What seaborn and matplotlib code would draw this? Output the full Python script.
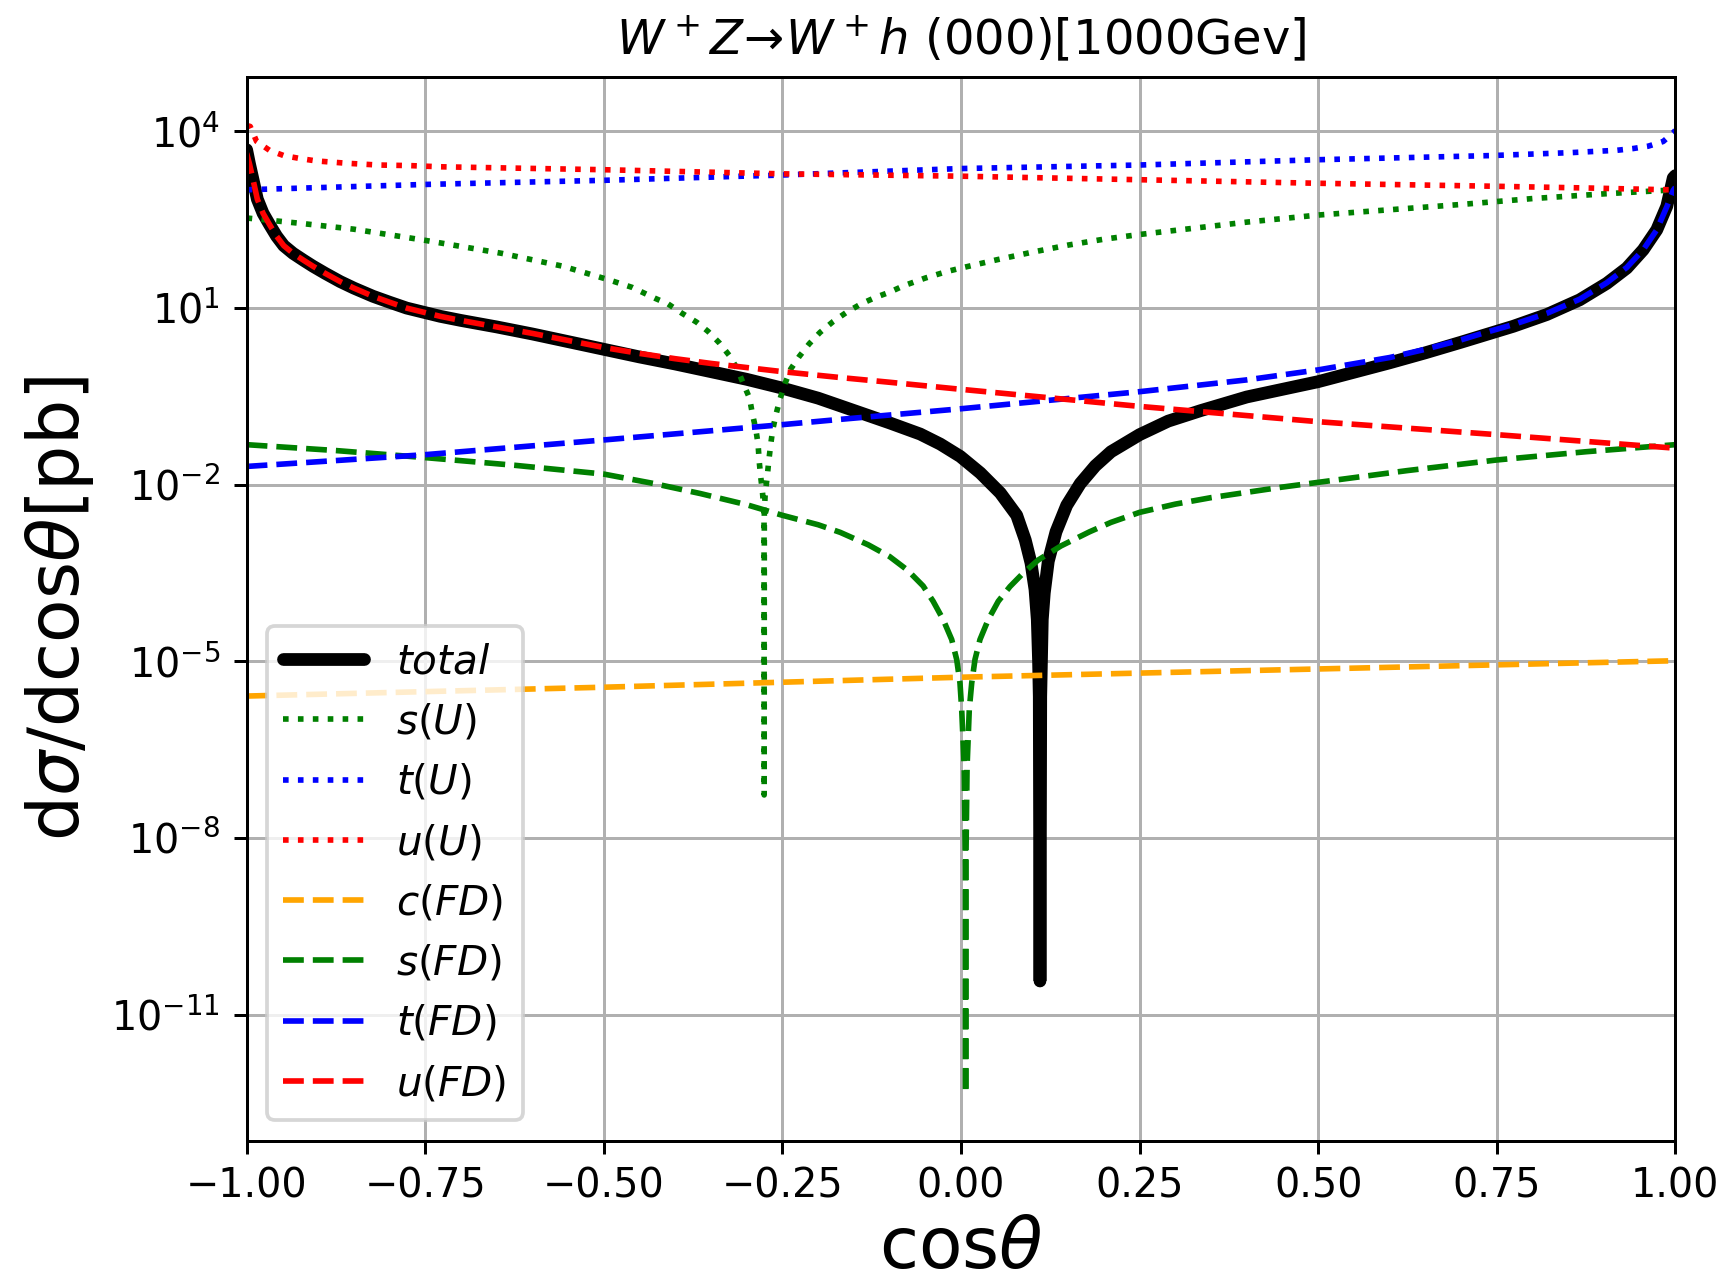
import matplotlib
matplotlib.use("Agg")
import matplotlib.pyplot as plt
import seaborn as sns
from matplotlib.ticker import FixedLocator, LogFormatterSciNotation, NullLocator

# ---------------- data ----------------
x_total = [-1.0, -0.996, -0.991, -0.985, -0.977, -0.968, -0.958, -0.948, -0.935, -0.92,
           -0.907, -0.89, -0.869, -0.85, -0.823, -0.8, -0.776, -0.729, -0.7, -0.65,
           -0.6, -0.55, -0.5, -0.45, -0.4, -0.35, -0.3, -0.25, -0.2, -0.169,
           -0.15, -0.1, -0.057, -0.029, -0.001, 0.027, 0.055, 0.078, 0.090, 0.098,
           0.1036, 0.1068, 0.1086, 0.1096, 0.1106, 0.1116, 0.1126, 0.1138, 0.1166, 0.1222,
           0.133, 0.148, 0.167, 0.188, 0.21, 0.25, 0.29, 0.336, 0.4, 0.45,
           0.5, 0.55, 0.6, 0.65, 0.7, 0.727, 0.773, 0.82, 0.866, 0.904,
           0.932, 0.955, 0.974, 0.988, 0.997, 1.0]
y_total = [4898, 2818, 1514, 707.9, 407.4, 263.0, 166.0, 114.8, 85.11, 64.57,
           51.29, 38.90, 28.18, 21.88, 15.85, 12.59, 10.0, 7.244, 6.166, 4.786,
           3.631, 2.692, 1.995, 1.479, 1.122, 0.8318, 0.6166, 0.4365, 0.2951, 0.2188,
           0.1820, 0.1122, 7.244e-2, 4.898e-2, 3.020e-2, 1.585e-2, 7.244e-3, 3.020e-3, 1.148e-3, 4.677e-4,
           1.660e-4, 5.129e-5, 1e-5, 2.512e-6, 3.715e-11, 2.512e-6, 1e-5, 5.129e-5, 1.445e-4, 5.012e-4,
           1.585e-3, 4.467e-3, 1.047e-2, 2.089e-2, 3.631e-2, 7.079e-2, 0.1202, 0.1820, 0.3090, 0.4169,
           0.5623, 0.8128, 1.175, 1.738, 2.630, 3.311, 4.898, 7.762, 13.80, 26.30,
           47.86, 97.72, 213.8, 537.0, 1622, 1778]

x_sU = [-1.0, -0.925, -0.85, -0.75, -0.643, -0.557, -0.493, -0.46, -0.429, -0.41,
        -0.391, -0.37, -0.354, -0.338, -0.324, -0.313, -0.305, -0.296, -0.292, -0.287,
        -0.284, -0.2824, -0.2804, -0.2778, -0.2757, -0.2755, -0.2753, -0.2740, -0.2712, -0.2692,
        -0.2664, -0.2636, -0.259, -0.2534, -0.2464, -0.2384, -0.2264, -0.2124, -0.1974, -0.1788,
        -0.16, -0.14, -0.12, -0.1, -0.08, -0.05, -0.02, 0.0, 0.05, 0.1,
        0.15, 0.2, 0.25, 0.3, 0.35, 0.4, 0.45, 0.5, 0.6, 0.7,
        0.8, 0.9, 1.0]
y_sU = [338.8, 275.4, 218.8, 141.3, 85.11, 51.29, 30.20, 22.39, 14.79, 11.75,
        8.222, 5.754, 4.009, 2.541, 1.549, 0.9204, 0.5321, 0.2958, 0.1600, 8.511e-2,
        4.786e-2, 2.455e-2, 1.380e-2, 7.244e-3, 3.548e-3, 5.370e-8, 3.548e-3, 7.244e-3, 1.380e-2, 2.455e-2,
        4.786e-2, 8.511e-2, 0.1549, 0.2851, 0.5176, 0.9204, 1.507, 2.477, 3.855, 5.929,
        8.511, 11.75, 15.14, 18.62, 23.99, 32.36, 41.69, 47.86, 66.07, 89.13,
        117.5, 147.9, 177.8, 208.9, 245.5, 288.4, 331.1, 380.2, 467.7, 575.4,
        724.4, 871.0, 1023]

x_tU = [-1.0, -0.75, -0.5, -0.25, -0.183, 0.0, 0.25, 0.5, 0.741, 0.853,
        0.918, 0.941, 0.962, 0.983, 0.998, 1.0]
y_tU = [1023, 1259, 1479, 1820, 1950, 2344, 2692, 3311, 3890, 4365,
        4786, 5129, 5623, 6761, 9772, 10470]

x_uU = [-1.0, -0.995, -0.986, -0.968, -0.948, -0.925, -0.903, -0.86, -0.816, -0.771,
        -0.729, -0.5, -0.25, -0.183, 0.0, 0.25, 0.5, 0.743, 0.876, 0.988, 1.0]
y_uU = [12590, 12160, 6761, 4786, 3890, 3467, 3162, 2884, 2692, 2630,
        2512, 2239, 1905, 1862, 1738, 1514, 1318, 1175, 1096, 1023, 1023]

x_cFD = [-1.0, -0.5, 0.0, 0.5, 1.0]
y_cFD = [2.570e-6, 3.631e-6, 5.370e-6, 7.413e-6, 1.023e-5]

x_sFD = [-1.0, -0.875, -0.75, -0.625, -0.5, -0.43, -0.365, -0.3, -0.25, -0.2,
         -0.169, -0.13, -0.1, -0.075, -0.053, -0.039, -0.025, -0.013, -0.006, -0.0014,
         0.001, 0.0045, 0.0062, 0.0065, 0.0068, 0.0085, 0.0116, 0.015, 0.0196, 0.0266,
         0.0382, 0.0522, 0.0686, 0.0872, 0.108, 0.14, 0.18, 0.21, 0.25, 0.3,
         0.35, 0.4, 0.45, 0.5, 0.625, 0.75, 0.875, 1.0]
y_sFD = [4.786e-2, 3.802e-2, 2.884e-2, 2.138e-2, 1.514e-2, 1.047e-2, 7.079e-3, 4.571e-3, 3.020e-3, 2.089e-3,
         1.549e-3, 9.550e-4, 6.026e-4, 3.548e-4, 1.905e-4, 1.047e-4, 5.129e-5, 2.344e-5, 1.072e-5, 4.266e-6,
         1.514e-6, 1.585e-7, 3.162e-9, 4.571e-13, 3.162e-9, 1.585e-7, 1.514e-6, 4.266e-6, 1.072e-5, 2.344e-5,
         5.129e-5, 1.047e-4, 1.862e-4, 3.162e-4, 5.248e-4, 9.120e-4, 1.585e-3, 2.291e-3, 3.388e-3, 4.677e-3,
         6.026e-3, 7.413e-3, 9.120e-3, 1.096e-2, 1.738e-2, 2.630e-2, 3.631e-2, 4.786e-2]

x_tFD = [-1.0, -0.75, -0.5, -0.365, -0.25, -0.169, 0.0, 0.25, 0.4, 0.5,
         0.6, 0.65, 0.7, 0.727, 0.773, 0.82, 0.866, 0.904, 0.932, 0.955,
         0.974, 0.988, 0.997, 1.0]
y_tFD = [2.042e-2, 3.236e-2, 5.754e-2, 7.943e-2, 0.1047, 0.1288, 0.1950, 0.3802, 0.6026, 0.8913,
         1.445, 1.995, 2.884, 3.631, 5.248, 8.128, 14.13, 26.92, 48.98, 97.72,
         213.8, 524.8, 1000, 1122]

x_uFD = [-1.0, -0.996, -0.991, -0.985, -0.977, -0.968, -0.958, -0.948, -0.935, -0.92,
         -0.907, -0.89, -0.869, -0.85, -0.823, -0.8, -0.776, -0.729, -0.7, -0.65,
         -0.6, -0.55, -0.5, -0.45, -0.4, -0.35, -0.3, -0.25, -0.169, -0.1,
         0.0, 0.25, 0.5, 0.75, 1.0]
y_uFD = [4266, 2818, 1514, 707.9, 407.4, 263.0, 166.0, 114.8, 85.11, 64.57,
         51.29, 38.90, 28.18, 21.88, 15.85, 12.59, 10.0, 7.244, 6.166, 4.786,
         3.715, 2.818, 2.138, 1.698, 1.380, 1.148, 0.9772, 0.8318, 0.6607, 0.5495,
         0.4169, 0.2138, 0.1175, 7.079e-2, 4.169e-2]

labels = ["$total$", "$s(U)$", "$t(U)$", "$u(U)$", "$c(FD)$", "$s(FD)$", "$t(FD)$", "$u(FD)$"]
x_ticks = [-1.0, -0.75, -0.5, -0.25, 0.0, 0.25, 0.5, 0.75, 1.0]
y_ticks = [1e-11, 1e-8, 1e-5, 1e-2, 1e1, 1e4]
title = r"$W^+Z\!\rightarrow\!W^+h$ (000)[1000Gev]"

# ---------------- style ----------------
sns.set_style("ticks")
plt.rcParams.update({
    "font.family": ["DejaVu Sans"],
    "axes.edgecolor": "black",
    "axes.linewidth": 0.8,
    "xtick.color": "black",
    "ytick.color": "black",
    "text.color": "black",
    "axes.labelcolor": "black",
    "xtick.labelsize": 10.6,
    "ytick.labelsize": 10.6,
    "mathtext.fontset": "dejavusans",
})

fig = plt.figure(figsize=(1727 / 270, 1287 / 270), dpi=270)
ax = fig.add_axes([0.1428, 0.1138, 0.8273, 0.8266])
ax.set_yscale("log")

series = [
    (x_total, y_total, "black", "-", 3.4),
    (x_sU, y_sU, "green", ":", 1.5),
    (x_tU, y_tU, "blue", ":", 1.5),
    (x_uU, y_uU, "red", ":", 1.5),
    (x_cFD, y_cFD, "orange", "--", 1.5),
    (x_sFD, y_sFD, "green", "--", 1.5),
    (x_tFD, y_tFD, "blue", "--", 1.5),
    (x_uFD, y_uFD, "red", "--", 1.5),
]
for (xs, ys, col, ls, lw), lab in zip(series, labels):
    sns.lineplot(x=xs, y=ys, ax=ax, color=col, linestyle=ls, linewidth=lw,
                 label=lab, estimator=None, sort=False)

ax.set_xlim(-1, 1)
ax.set_ylim(10 ** -13.14, 10 ** 4.93)
ax.set_xticks(x_ticks)
ax.yaxis.set_major_locator(FixedLocator(y_ticks))
ax.yaxis.set_major_formatter(LogFormatterSciNotation())
ax.yaxis.set_minor_locator(NullLocator())
ax.grid(True, which="major", color="#b0b0b0", linewidth=0.8)
ax.set_axisbelow(True)
for s in ax.spines.values():
    s.set_visible(True)
    s.set_color("black")

ax.set_xlabel(r"cos$\theta$", fontsize=19, labelpad=2)
ax.set_ylabel(r"d$\sigma$/dcos$\theta$[pb]", fontsize=19)
ax.set_title(title, fontsize=12.8)
ax.legend(loc="lower left", fontsize=10.8)

fig.savefig("out.png", dpi=270)
